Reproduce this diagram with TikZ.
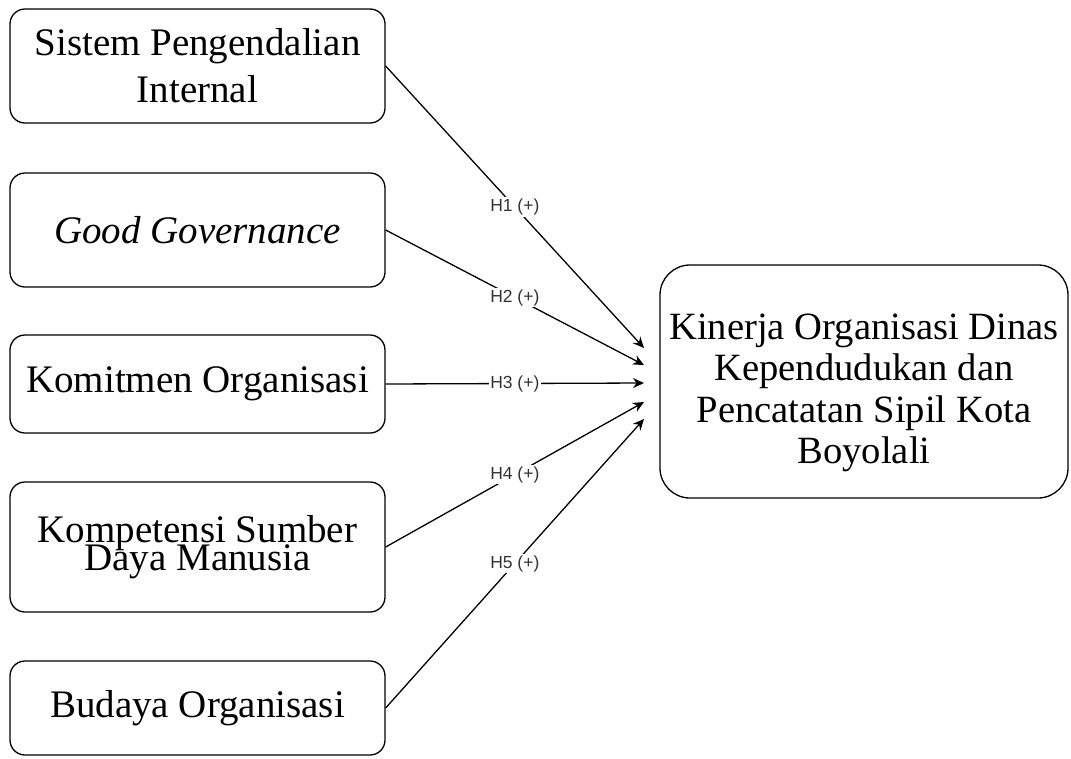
\documentclass[tikz,border=0pt]{standalone}
\usepackage{fontspec}
\setmainfont{Liberation Serif}
\newfontfamily\hypfont{Liberation Sans}
\usetikzlibrary{arrows.meta}
\newcommand{\tightlines}{\lineskiplimit=-100pt\relax}
\tikzset{
  box/.style={draw,line width=1.3pt,rounded corners=15pt,minimum width=375pt,inner sep=0pt,align=center,font=\fontsize{39}{47}\selectfont},
  kbox/.style={box,rounded corners=30pt,minimum width=408pt,minimum height=233pt},
  ktext/.style={inner sep=0pt,align=center,font=\fontsize{38.6}{41.5}\selectfont},
  hyp/.style={fill=white,inner sep=1.5pt,text=black!80,font=\hypfont\fontsize{17.5}{19}\selectfont},
  ar/.style={-{Stealth[length=11pt,width=10pt]},line width=1.3pt},
}
\begin{document}
\begin{tikzpicture}[x=1pt,y=-1pt]
\useasboundingbox (0,0) rectangle (1071,758);
% ---- independent variables ----
\node[box,minimum height=114pt] (spi) at (197.5,66) {Sistem Pengendalian\\Internal};
\node[box,minimum height=114pt] (gg) at (197.5,230) {\itshape Good Governance};
\node[box,minimum height=98pt] (ko) at (197.5,384) {Komitmen Organisasi};
\node[box,minimum height=130pt,font={\fontsize{39}{28}\selectfont\tightlines}] (ksdm) at (197.5,547) {Kompetensi Sumber\\Daya Manusia};
\node[box,minimum height=94pt] (bo) at (197.5,708) {Budaya Organisasi};
% ---- dependent variable ----
\node[kbox] (kin) at (864,381.5) {};
\node[ktext] (kintxt) at (864,393) {Kinerja Organisasi Dinas\\Kependudukan dan\\Pencatatan Sipil Kota\\Boyolali};
% ---- arrow targets ----
\coordinate (t1) at (644,348);
\coordinate (t2) at (644,365);
\coordinate (t3) at (644,383);
\coordinate (t4) at (644,402);
\coordinate (t5) at (644,419);
% ---- hypotheses ----
\draw[ar] (spi.east) -- node[hyp] {H1 (+)} (t1);
\draw[ar] (gg.east) -- node[hyp] {H2 (+)} (t2);
\draw[ar] (ko.east) -- node[hyp] {H3 (+)} (t3);
\draw[ar] (ksdm.east) -- node[hyp] {H4 (+)} (t4);
\draw[ar] (bo.east) -- node[hyp] {H5 (+)} (t5);
\end{tikzpicture}
\end{document}
